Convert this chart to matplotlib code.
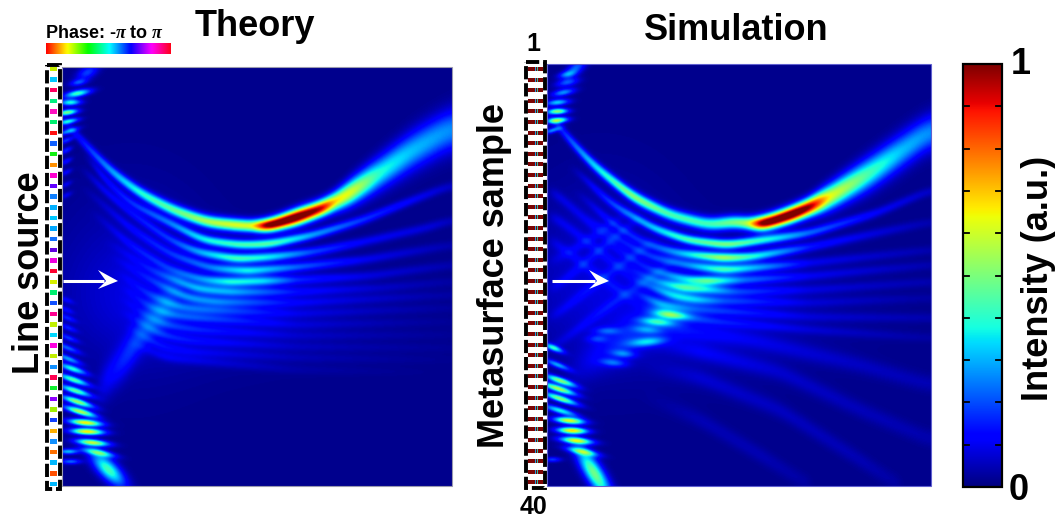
import numpy as np
import matplotlib
matplotlib.use("Agg")
import matplotlib.pyplot as plt
from matplotlib.patches import Rectangle, Polygon

plt.rcParams['font.family'] = ['Liberation Sans', 'DejaVu Sans']
plt.rcParams['mathtext.fontset'] = 'custom'
plt.rcParams['mathtext.it'] = 'Liberation Serif:italic:bold'

# main arc of each map: x, y, intensity, width
th_arc_x = [62, 87, 113, 140, 173, 207, 237, 252, 268, 297, 323, 335, 350, 380, 413, 452]
th_arc_y = [118, 147, 173, 193, 210, 222, 225, 226, 226, 217, 208, 202, 193, 173, 150, 128]
th_arc_a = [0.03, 0.16, 0.28, 0.38, 0.45, 0.55, 0.62, 0.6, 1.1, 1.15, 0.95, 0.66, 0.62, 0.38, 0.3, 0.25]
th_arc_s = [3.5, 4, 4, 4, 4.2, 4.2, 4.2, 4.2, 4.5, 5.5, 5.5, 6.5, 8.5, 11, 13, 14]

sim_arc_x = [547, 567, 593, 633, 670, 710, 737, 748, 763, 793, 810, 830, 870, 903, 931]
sim_arc_y = [112, 137, 165, 197, 215, 225, 221, 224, 224, 214, 207, 197, 173, 150, 130]
sim_arc_a = [0.03, 0.18, 0.33, 0.5, 0.42, 0.42, 0.5, 0.55, 1.1, 1.15, 1.0, 0.62, 0.42, 0.3, 0.25]
sim_arc_s = [3.5, 4, 4, 4.2, 4.2, 4.5, 4.5, 4.5, 5, 5.5, 6, 8.5, 11, 12, 12]

# fainter fringes under the arc: (x, y, intensity) along each one
th_fringes = [
    [(85, 152, 0), (100, 175, .1), (130, 203, .14), (170, 223, .22), (203, 240, .35), (240, 245, .43), (270, 244, .45), (313, 235, .28), (363, 220, .17), (413, 200, .1), (452, 185, .05)],
    [(80, 165, 0), (100, 187, .08), (130, 212, .1), (170, 240, .14), (197, 252, .25), (237, 259, .42), (270, 257, .35), (313, 252, .18), (363, 242, .1), (430, 227, .07), (452, 220, .04)],
    [(80, 185, 0), (130, 228, .08), (170, 254, .12), (210, 268, .2), (247, 271, .35), (297, 267, .2), (363, 260, .09), (452, 245, .03)],
    [(90, 210, 0), (130, 245, .08), (170, 270, .12), (203, 280, .22), (230, 282, .35), (263, 281, .32), (297, 280, .13), (370, 276, .07), (452, 265, .03)],
    [(105, 240, 0), (150, 270, .08), (197, 289, .25), (230, 292, .25), (297, 292, .1), (380, 288, .05), (452, 282, .02)],
    [(110, 255, 0), (150, 280, .08), (187, 298, .2), (217, 302, .2), (297, 303, .08), (452, 295, .02)],
    [(115, 270, 0), (145, 293, .07), (177, 307, .17), (207, 310, .16), (297, 314, .06), (452, 308, .015)],
    [(120, 285, 0), (145, 305, .07), (170, 315, .15), (197, 318, .14), (297, 325, .05), (452, 322, .01)],
    [(120, 297, 0), (145, 316, .06), (165, 325, .12), (197, 330, .1), (297, 336, .04), (452, 335, .01)],
    [(120, 310, 0), (160, 335, .11), (190, 341, .09), (297, 347, .035), (452, 348, .01)],
    [(125, 325, 0), (160, 347, .09), (190, 352, .07), (297, 358, .03), (452, 360, .005)],
    [(125, 340, 0), (165, 358, .07), (297, 370, .02), (452, 373, 0)],
]
sim_fringes = [
    [(570, 165, 0), (610, 203, .15), (653, 228, .3), (687, 240, .42), (727, 245, .5), (777, 238, .35), (810, 233, .22), (877, 213, .1), (931, 190, .05)],
    [(575, 190, 0), (610, 222, .1), (643, 243, .12), (677, 253, .25), (723, 258, .55), (750, 257, .4), (810, 247, .13), (877, 233, .07), (931, 222, .03)],
    [(585, 215, 0), (620, 240, .08), (650, 257, .12), (687, 265, .22), (723, 270, .42), (750, 268, .3), (810, 263, .08), (931, 250, .03)],
    [(600, 240, 0), (650, 270, .1), (687, 280, .3), (707, 281, .45), (743, 280, .2), (810, 276, .08), (931, 265, .03)],
    [(620, 262, 0), (650, 280, .12), (683, 288, .4), (700, 289, .35), (737, 292, .15), (810, 290, .06), (931, 282, .03)],
    [(630, 278, 0), (673, 296, .28), (697, 300, .28), (723, 301, .15), (810, 303, .05), (931, 298, .02)],
    [(630, 290, 0), (660, 305, .2), (690, 309, .15), (810, 317, .05), (931, 318, .03)],
    [(640, 305, 0), (670, 315, .16), (720, 322, .1), (810, 330, .05), (931, 338, .02)],
]
# crossing hatch on the left of the simulation
sim_hatch = [
    [(552, 262, .03), (580, 245, .06), (610, 225, .05), (630, 212, 0)],
    [(552, 290, .04), (590, 258, .07), (625, 228, .05), (645, 215, 0)],
    [(552, 318, .04), (600, 280, .07), (640, 250, .05), (660, 238, 0)],
    [(552, 348, .03), (610, 305, .07), (660, 270, .05), (680, 258, 0)],
    [(552, 190, .06), (580, 215, .06), (610, 240, .06), (640, 262, 0)],
    [(552, 215, .06), (585, 240, .06), (620, 268, .06), (650, 288, 0)],
    [(552, 240, .05), (590, 270, .06), (625, 295, .06), (650, 310, 0)],
]
sim_bands = [
    [(640, 318, 0), (680, 330, .08), (750, 340, .06), (860, 365, .045), (931, 385, .035)],
    [(640, 340, 0), (700, 352, .07), (780, 372, .05), (860, 410, .04), (931, 440, .03)],
    [(640, 365, 0), (700, 378, .05), (780, 410, .045), (860, 460, .035), (900, 486, .02)],
    [(640, 395, 0), (700, 420, .035), (760, 455, .035), (810, 486, .02)],
]

# short streaks: x, y, intensity, half length, half width, slope
th_blob_x = [77, 70, 67, 68, 68, 66, 87, 78, 67, 68, 72, 73, 75, 77, 80, 85, 87, 92, 98, 68, 70, 108, 66, 66, 66, 66, 66, 66, 66, 67, 68, 68, 210, 130]
th_blob_y = [93, 102, 112, 121, 131, 140, 72, 82, 348, 359, 369, 380, 391, 402, 412, 423, 432, 443, 453, 452, 462, 470, 150, 161, 172, 184, 195, 300, 310, 318, 328, 338, 305, 280]
th_blob_a = [.45, .42, .55, .42, .3, .2, .18, .2, .22, .3, .42, .48, .5, .58, .62, .72, .72, .62, .42, .35, .25, .42, .18, .15, .12, .1, .1, .1, .12, .15, .15, .18, .05, .05]
th_blob_l = [9, 7, 7, 7, 7, 5, 8, 6, 9, 9, 10, 11, 11, 11, 11, 11, 11, 11, 11, 7, 7, 15, 4, 4, 4, 4, 4, 5, 5, 6, 6, 7, 80, 50]
th_blob_w = [2.2, 2, 1.8, 1.6, 1.6, 1.5, 4, 2, 1.8, 1.8, 2, 2, 2, 2, 2, 2, 2, 2, 2, 1.6, 1.6, 6, 1.5, 1.5, 1.5, 1.5, 1.5, 1.5, 1.5, 1.5, 1.5, 1.5, 35, 60]
th_blob_m = [-.2, -.05, -.15, -.2, -.3, -.4, -.5, -.2, .4, .4, .35, .35, .33, .33, .3, .1, .05, .1, .2, 0, 0, 1, -.5, -.5, -.5, -.5, -.5, .4, .4, .4, .4, .4, 0, 0]

sim_blob_x = [567, 563, 557, 557, 557, 552, 575, 566, 553, 557, 560, 558, 560, 560, 569, 572, 576, 582, 552, 594, 657, 647, 607, 647, 597, 623, 613, 670, 600, 690]
sim_blob_y = [82, 92, 102, 111, 120, 130, 68, 74, 348, 365, 381, 389, 399, 411, 421, 431, 441, 452, 460, 474, 322, 330, 331, 342, 339, 354, 363, 315, 270, 310]
sim_blob_a = [.2, .28, .35, .58, .6, .3, .22, .2, .42, .3, .55, .6, .55, .4, .68, .72, .62, .42, .2, .48, .26, .15, .15, .26, .12, .18, .18, .28, .05, .05]
sim_blob_l = [8, 8, 8, 7, 7, 6, 9, 6, 7, 9, 11, 12, 12, 12, 10, 10, 11, 11, 6, 20, 12, 10, 9, 13, 7, 8, 9, 12, 50, 90]
sim_blob_w = [2.5, 2.2, 2, 1.8, 1.8, 1.5, 4, 2, 1.8, 1.8, 2, 2, 2, 2, 2, 2, 2, 2, 1.5, 6, 2.5, 2.5, 2.5, 3, 2.5, 2.5, 2.5, 2.5, 60, 40]
sim_blob_m = [-.2, -.2, -.1, -.05, -.1, -.3, -.8, -.2, .4, .4, .35, .33, .33, .3, .1, .05, .1, .2, 0, 1.6, .1, .1, 0, -.1, 0, .1, .1, .1, 0, 0]

# the faint beam running up and to the right: x, y, intensity
th_beam = [(95, 395, 0), (103, 383, .08), (127, 357, .13), (143, 330, .12), (163, 310, .1), (185, 285, 0)]
sim_beam = [(560, 380, 0), (590, 360, .06), (625, 340, .1), (660, 320, .08), (700, 300, 0)]

# phase of the 40 elements of the line source
source_colors = ['#c8f000', '#00c8ff', '#ff0060', '#00f080', '#ff10c0', '#00f070', '#ff1010', '#1060ff',
                 '#10f010', '#ff9000', '#ff00d0', '#6000ff', '#1080ff', '#00b0ff', '#00c8ff', '#00a8ff',
                 '#1070ff', '#6000e0', '#f000e0', '#ff0030', '#d8f000', '#00f070', '#1050ff', '#ff0090',
                 '#c0f000', '#00d8ff', '#ff00e0', '#c0f000', '#1090ff', '#ff0050', '#10f030', '#9000ff',
                 '#a0f000', '#1040ff', '#ffb000', '#1090ff', '#ff7000', '#00b8ff', '#ff5000', '#00b8ff']

colorbar_ticks = [0.1, 0.2, 0.3, 0.4, 0.5, 0.6, 0.7, 0.8, 0.9]


def smooth(v, s, axis=-1):
    k = np.exp(-0.5 * (np.arange(-3 * int(s), 3 * int(s) + 1) / s) ** 2)
    k /= k.sum()
    pad = len(k) // 2
    return np.apply_along_axis(lambda r: np.convolve(np.pad(r, pad, mode='edge'), k, mode='valid'), axis, v)


def add_ridge(field, xs, yy, x, y, a, s):
    yc = smooth(np.interp(xs, x, y), 9)
    amp = smooth(np.interp(xs, x, a, left=0, right=0), 4)
    sig = smooth(np.interp(xs, x, s), 6)
    return field + amp * np.exp(-0.5 * ((yy - yc) / sig) ** 2)


def make_field(x0, x1, y0, y1, arc, groups, beam, blobs):
    xs = np.arange(x0, x1 + 1)
    ys = np.arange(y0, y1 + 1)
    xx, yy = np.meshgrid(xs, ys)
    field = np.full(xx.shape, 0.012)
    field = add_ridge(field, xs, yy, *arc)
    for ridges, width in groups:
        for f in ridges:
            px, py, pa = zip(*f)
            field = add_ridge(field, xs, yy, px, py, pa, [width] * len(px))
    px, py, pa = zip(*beam)
    field = add_ridge(field, xs, yy, px, py, pa, [13] * len(px))
    for bx, by, ba, bl, bw, bm in zip(*blobs):
        n = np.hypot(1, bm)
        u = ((xx - bx) + bm * (yy - by)) / n
        v = ((yy - by) - bm * (xx - bx)) / n
        field += ba * np.exp(-0.5 * (u / bl) ** 2 - 0.5 * (v / bw) ** 2)
    field = smooth(smooth(field, 1.0, axis=0), 1.0, axis=1)
    return np.clip(field, 0, 1)


fig = plt.figure(figsize=(10.61, 5.20), dpi=100)
ax = fig.add_axes([0, 0, 1, 1])

# theory map
theory = make_field(62, 452, 67, 486, (th_arc_x, th_arc_y, th_arc_a, th_arc_s), [(th_fringes, 3.2)], th_beam,
                    (th_blob_x, th_blob_y, th_blob_a, th_blob_l, th_blob_w, th_blob_m))
ax.imshow(theory, cmap='jet', vmin=0, vmax=1, extent=(62, 452, 486, 67), aspect='auto', interpolation='bilinear')
ax.add_patch(Rectangle((62, 67), 390, 419, fill=False, ec='#9a9ab0', lw=0.8))

# simulation map
simulation = make_field(547, 931, 64, 486, (sim_arc_x, sim_arc_y, sim_arc_a, sim_arc_s),
                        [(sim_fringes, 3.2), (sim_hatch, 4), (sim_bands, 6)], sim_beam,
                        (sim_blob_x, sim_blob_y, sim_blob_a, sim_blob_l, sim_blob_w, sim_blob_m))
ax.imshow(simulation, cmap='jet', vmin=0, vmax=1, extent=(547, 931, 486, 64), aspect='auto', interpolation='bilinear')
ax.add_patch(Rectangle((547, 64), 384, 422, fill=False, ec='#6060d0', lw=0.8))

# line source
for i, c in enumerate(source_colors):
    y = 69 + i * 10.64
    ax.add_patch(Rectangle((49.5, y - 2.2), 7, 4.4, fc=c, ec='none', zorder=3))
ax.add_patch(Rectangle((46.5, 65), 13.5, 424, fill=False, ec='black', lw=2.8, ls=(0, (3.4, 1.0)), zorder=4))

# metasurface sample
for i in range(40):
    y = 69 + i * 10.6
    ax.add_patch(Rectangle((528, y - 2), 15, 4, fc='#7a0505', ec='none', zorder=3))
    ax.add_patch(Rectangle((534.5, y - 2), 1.6, 4, fc='#20a0e0', ec='none', zorder=3))
    ax.add_patch(Rectangle((537, y - 2), 1.2, 4, fc='#30c0a0', ec='none', zorder=3))
ax.add_patch(Rectangle((526, 62), 19, 426, fill=False, ec='black', lw=2.8, ls=(0, (3.4, 1.0)), zorder=4))

# arrows
for x_start, x_end in [(63, 118), (552, 609)]:
    ax.plot([x_start, x_end - 14], [281, 281], color='white', lw=2.2, zorder=5, solid_capstyle='butt')
    ax.add_patch(Polygon([(x_end, 281), (x_end - 20, 270), (x_end - 12, 281), (x_end - 20, 289)],
                         fc='white', ec='none', zorder=5))

# phase bar
phase = np.linspace(0, 1, 256).reshape(1, -1)
ax.imshow(phase, cmap='hsv', extent=(46, 170.5, 54, 43), aspect='auto')

# intensity bar
levels = np.linspace(1, 0, 256).reshape(-1, 1)
ax.imshow(levels, cmap='jet', extent=(963, 1002, 487, 64), aspect='auto')
ax.add_patch(Rectangle((963, 64), 39, 423, fill=False, ec='black', lw=1.6, zorder=4))
for t in colorbar_ticks:
    y = 487 - t * 423
    ax.plot([963, 969], [y, y], color='black', lw=1.3)
    ax.plot([996, 1002], [y, y], color='black', lw=1.3)

# text
bold = dict(fontweight='bold', color='black', ha='center', va='center')
ax.text(255, 27, 'Theory', fontsize=26, **bold)
ax.text(736, 31, 'Simulation', fontsize=26, **bold)
ax.text(105, 33, r'Phase: -$\pi$ to $\pi$', fontsize=13, **bold)
ax.text(30, 273, 'Line source', fontsize=26, rotation=90, **bold)
ax.text(494, 275, 'Metasurface sample', fontsize=26, rotation=90, **bold)
ax.text(1038, 278, 'Intensity (a.u.)', fontsize=26, rotation=90, **bold)
ax.text(1021, 64, '1', fontsize=26, **bold)
ax.text(1019, 491, '0', fontsize=26, **bold)
ax.text(533, 44, '1', fontsize=18, **bold)
ax.text(533, 507, '40', fontsize=18, **bold)

ax.set_xlim(0, 1061)
ax.set_ylim(520, 0)
ax.axis('off')
fig.savefig('out.png', dpi=100)
